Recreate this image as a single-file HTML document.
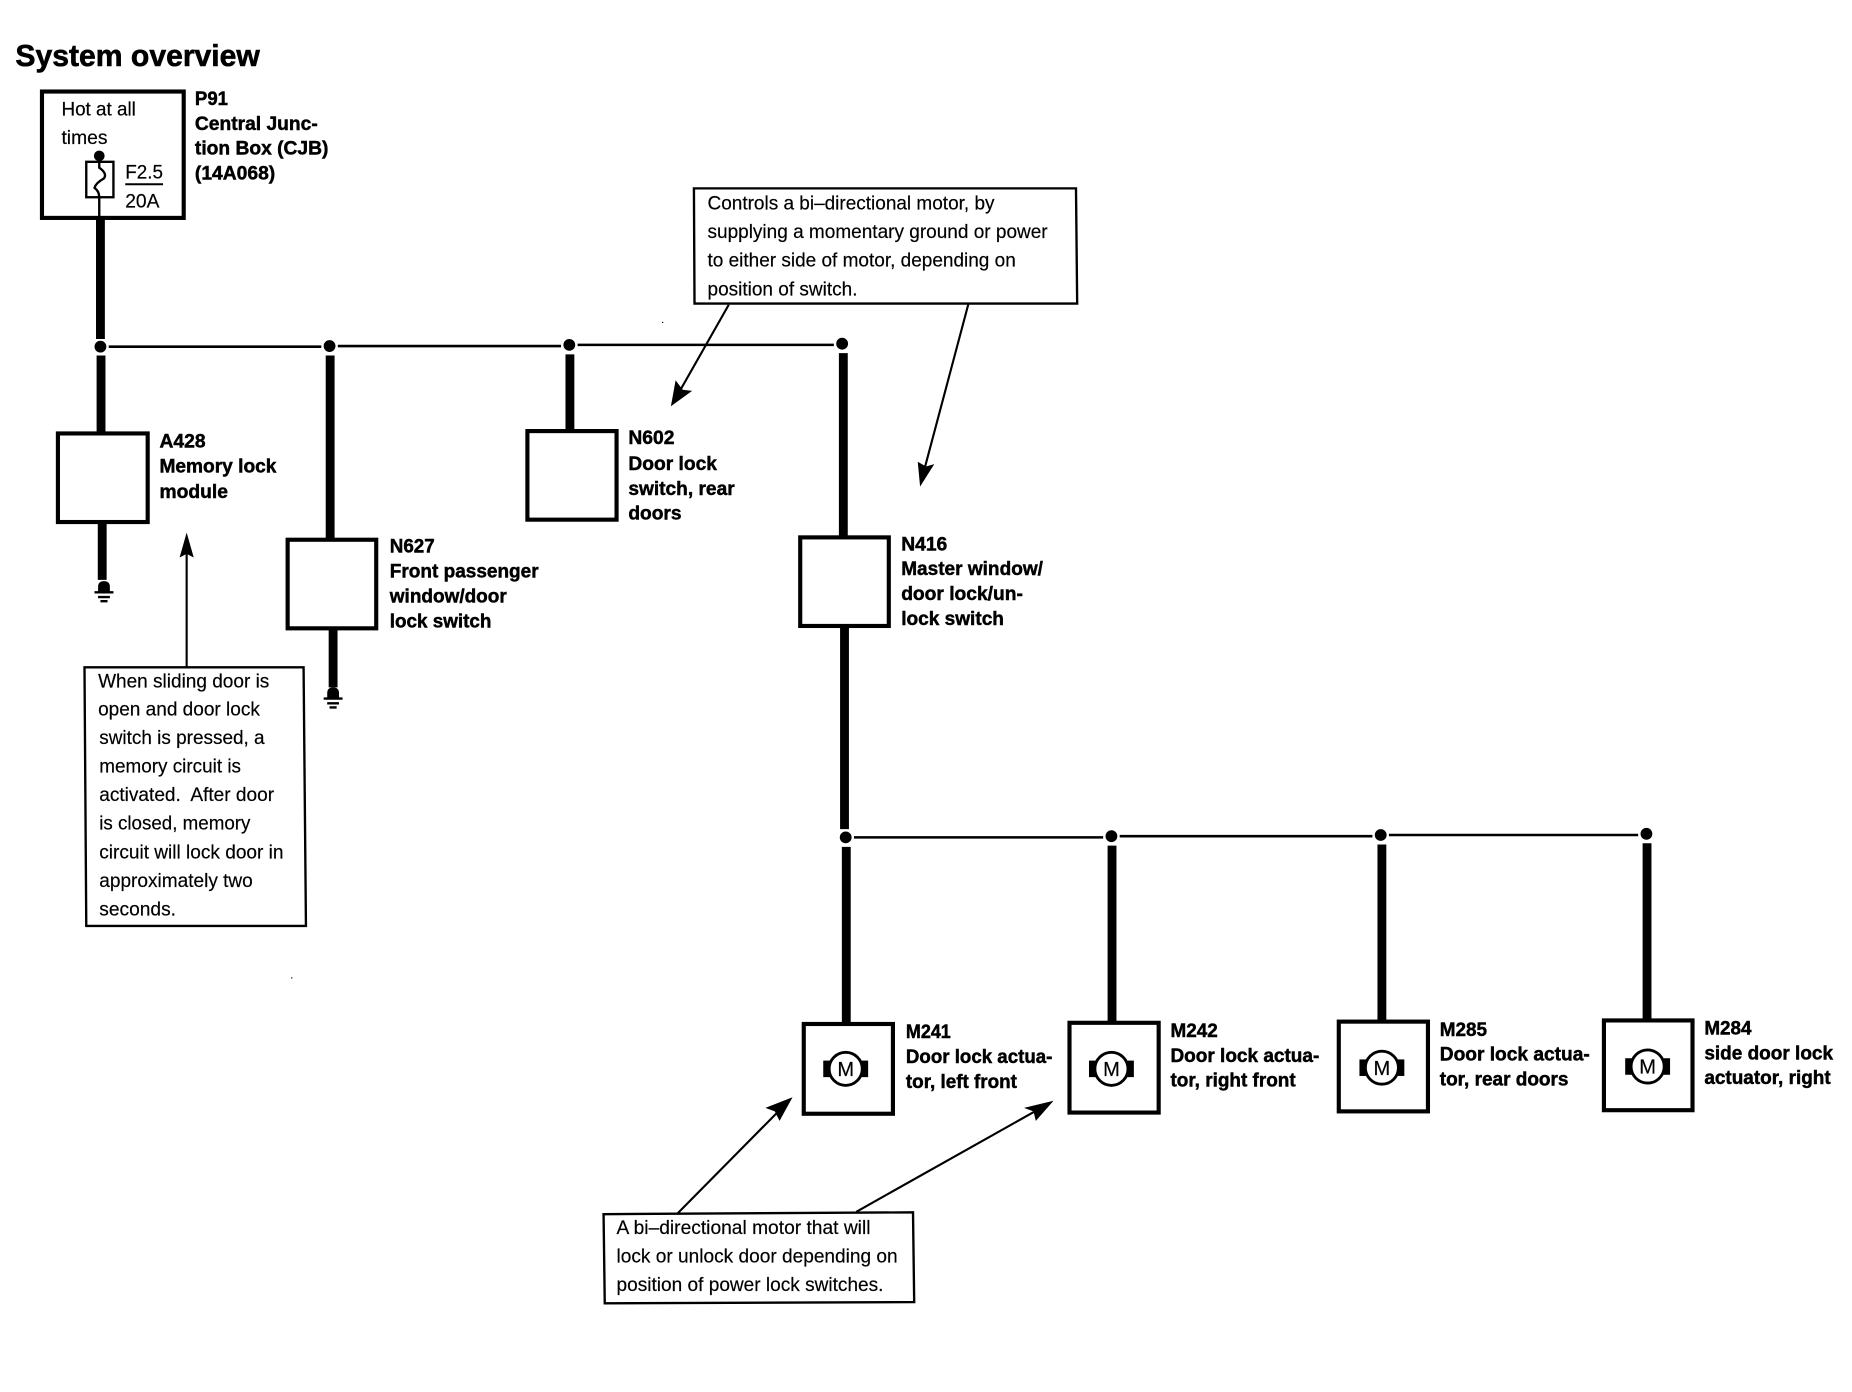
<!DOCTYPE html>
<html><head><meta charset="utf-8"><style>
html,body{margin:0;padding:0;background:#fff}
svg{display:block}
text{font-family:"Liberation Sans",sans-serif;font-size:16.5px;fill:#000;stroke:#000;stroke-width:.15}
.b{font-weight:bold;stroke:#000;stroke-width:.4}
.t{font-weight:bold;font-size:26px;stroke:#000;stroke-width:.5}
.box{fill:#fff;stroke:#000;stroke-width:3.5}
.co{fill:#fff;stroke:#000;stroke-width:2}
.w{stroke:#000;stroke-width:7.5;fill:none}
.h{stroke:#000;stroke-width:2.2;fill:none}
.a{stroke:#000;stroke-width:1.8;fill:none}
</style></head><body>
<svg xmlns="http://www.w3.org/2000/svg" width="1852" height="1392" viewBox="0 0 1568 1178.6">
<text class="t" x="13" y="56" textLength="207" lengthAdjust="spacingAndGlyphs">System overview</text>

<!-- P91 -->
<rect class="box" x="35.500" y="77.500" width="120" height="107"/>
<text x="52" y="98" textLength="63" lengthAdjust="spacingAndGlyphs">Hot at all</text>
<text x="52" y="122" textLength="39" lengthAdjust="spacingAndGlyphs">times</text>
<circle cx="84" cy="132" r="4.500"/>
<rect x="73" y="137" width="23" height="30" fill="#fff" stroke="#000" stroke-width="2"/>
<path d="M84 132V142Q91 147 88 151Q81 155 80 159Q84 162 84 167V185" fill="none" stroke="#000" stroke-width="2"/>
<text x="106" y="151" textLength="32" lengthAdjust="spacingAndGlyphs">F2.5</text>
<path d="M106 156H138" stroke="#000" stroke-width="1.600"/>
<text x="106" y="175.500" textLength="29" lengthAdjust="spacingAndGlyphs">20A</text>
<text class="b" x="165" y="89" textLength="28" lengthAdjust="spacingAndGlyphs">P91</text>
<text class="b" x="165" y="110" textLength="104" lengthAdjust="spacingAndGlyphs">Central Junc-</text>
<text class="b" x="165" y="131" textLength="113" lengthAdjust="spacingAndGlyphs">tion Box (CJB)</text>
<text class="b" x="165" y="152" textLength="68" lengthAdjust="spacingAndGlyphs">(14A068)</text>

<!-- wires -->
<path class="w" d="M85 185V287M85.500 301V367M279.500 301V457M482.500 300V365M714 299V455M715 530V702M716.500 717V867M941.500 716V866M1170 715V865M1394.500 714V864M86.500 442V491M282 532V582"/>
<path class="h" d="M92 293.500H272M286 293H475M489 292H706M723 709H934M948 708H1162M1176 707H1387"/>
<g><circle cx="85" cy="293.500" r="5"/><circle cx="279" cy="293" r="5"/><circle cx="482" cy="292" r="5"/><circle cx="713" cy="291" r="5"/><circle cx="716" cy="709" r="5"/><circle cx="941" cy="708" r="5"/><circle cx="1169" cy="707" r="5"/><circle cx="1394" cy="706" r="5"/></g>

<!-- grounds -->
<g><path d="M83 501V497Q83 492 88 492Q93 492 93 497V501Z"/><path d="M80 501.500H96M83 505.500H93M85 509H91" stroke="#000" stroke-width="2"/></g>
<g transform="translate(194,90)"><path d="M83 501V497Q83 492 88 492Q93 492 93 497V501Z"/><path d="M80 501.500H96M83 505.500H93M85 509H91" stroke="#000" stroke-width="2"/></g>

<!-- boxes -->
<rect class="box" x="49" y="367" width="76" height="75"/>
<rect class="box" x="243.500" y="457" width="75" height="75"/>
<rect class="box" x="446.500" y="365" width="75.500" height="75"/>
<rect class="box" x="677.500" y="455" width="75" height="75"/>
<rect class="box" x="680.500" y="867" width="75.500" height="76"/>
<rect class="box" x="905.500" y="866" width="75.500" height="76"/>
<rect class="box" x="1133.500" y="865" width="75.500" height="76"/>
<rect class="box" x="1358" y="864" width="75" height="76"/>

<!-- motors -->
<g transform="translate(716,905)"><rect x="-19" y="-7" width="38" height="14"/><circle r="14" fill="#fff" stroke="#000" stroke-width="2.400"/><text x="0" y="6" text-anchor="middle" style="font-size:17px">M</text></g>
<g transform="translate(941,905)"><rect x="-19" y="-7" width="38" height="14"/><circle r="14" fill="#fff" stroke="#000" stroke-width="2.400"/><text x="0" y="6" text-anchor="middle" style="font-size:17px">M</text></g>
<g transform="translate(1170,904)"><rect x="-19" y="-7" width="38" height="14"/><circle r="14" fill="#fff" stroke="#000" stroke-width="2.400"/><text x="0" y="6" text-anchor="middle" style="font-size:17px">M</text></g>
<g transform="translate(1395,903)"><rect x="-19" y="-7" width="38" height="14"/><circle r="14" fill="#fff" stroke="#000" stroke-width="2.400"/><text x="0" y="6" text-anchor="middle" style="font-size:17px">M</text></g>

<!-- labels -->
<text class="b" x="135" y="379" textLength="39" lengthAdjust="spacingAndGlyphs">A428</text>
<text class="b" x="135" y="400" textLength="99" lengthAdjust="spacingAndGlyphs">Memory lock</text>
<text class="b" x="135" y="421.500" textLength="58" lengthAdjust="spacingAndGlyphs">module</text>

<text class="b" x="330" y="468" textLength="38" lengthAdjust="spacingAndGlyphs">N627</text>
<text class="b" x="330" y="489" textLength="126" lengthAdjust="spacingAndGlyphs">Front passenger</text>
<text class="b" x="330" y="510" textLength="99" lengthAdjust="spacingAndGlyphs">window/door</text>
<text class="b" x="330" y="531.500" textLength="86" lengthAdjust="spacingAndGlyphs">lock switch</text>

<text class="b" x="532" y="376" textLength="39" lengthAdjust="spacingAndGlyphs">N602</text>
<text class="b" x="532" y="398" textLength="75" lengthAdjust="spacingAndGlyphs">Door lock</text>
<text class="b" x="532" y="419" textLength="90" lengthAdjust="spacingAndGlyphs">switch, rear</text>
<text class="b" x="532" y="440" textLength="45" lengthAdjust="spacingAndGlyphs">doors</text>

<text class="b" x="763" y="466" textLength="39" lengthAdjust="spacingAndGlyphs">N416</text>
<text class="b" x="763" y="487" textLength="120" lengthAdjust="spacingAndGlyphs">Master window/</text>
<text class="b" x="763" y="508" textLength="103" lengthAdjust="spacingAndGlyphs">door lock/un-</text>
<text class="b" x="763" y="529" textLength="87" lengthAdjust="spacingAndGlyphs">lock switch</text>

<text class="b" x="767" y="879" textLength="38" lengthAdjust="spacingAndGlyphs">M241</text>
<text class="b" x="767" y="900" textLength="124" lengthAdjust="spacingAndGlyphs">Door lock actua-</text>
<text class="b" x="767" y="921" textLength="94" lengthAdjust="spacingAndGlyphs">tor, left front</text>

<text class="b" x="991" y="878" textLength="40" lengthAdjust="spacingAndGlyphs">M242</text>
<text class="b" x="991" y="899" textLength="126" lengthAdjust="spacingAndGlyphs">Door lock actua-</text>
<text class="b" x="991" y="920" textLength="106" lengthAdjust="spacingAndGlyphs">tor, right front</text>

<text class="b" x="1219" y="877" textLength="40" lengthAdjust="spacingAndGlyphs">M285</text>
<text class="b" x="1219" y="898" textLength="127" lengthAdjust="spacingAndGlyphs">Door lock actua-</text>
<text class="b" x="1219" y="919" textLength="109" lengthAdjust="spacingAndGlyphs">tor, rear doors</text>

<text class="b" x="1443" y="876" textLength="40" lengthAdjust="spacingAndGlyphs">M284</text>
<text class="b" x="1443" y="897" textLength="109" lengthAdjust="spacingAndGlyphs">side door lock</text>
<text class="b" x="1443" y="918" textLength="107" lengthAdjust="spacingAndGlyphs">actuator, right</text>

<!-- callout 1 -->
<path class="a" d="M158 565V468"/><path d="M158 451L164 472L158 469L152 472Z"/>
<path class="co" d="M71.500 565H257L259 784H73Z"/>
<text x="83" y="582" textLength="145" lengthAdjust="spacingAndGlyphs">When sliding door is</text>
<text x="83" y="606" textLength="137" lengthAdjust="spacingAndGlyphs">open and door lock</text>
<text x="84" y="630" textLength="140" lengthAdjust="spacingAndGlyphs">switch is pressed, a</text>
<text x="84" y="654" textLength="120" lengthAdjust="spacingAndGlyphs">memory circuit is</text>
<text x="84" y="678" textLength="148" lengthAdjust="spacingAndGlyphs" xml:space="preserve">activated.  After door</text>
<text x="84" y="702.500" textLength="128" lengthAdjust="spacingAndGlyphs">is closed, memory</text>
<text x="84" y="727" textLength="156" lengthAdjust="spacingAndGlyphs">circuit will lock door in</text>
<text x="84" y="751" textLength="130" lengthAdjust="spacingAndGlyphs">approximately two</text>
<text x="84" y="775" textLength="65" lengthAdjust="spacingAndGlyphs">seconds.</text>

<!-- callout 2 -->
<path class="a" d="M617 258L575 332"/><path d="M568 344L572 322L578 330L586 331Z"/>
<path class="a" d="M820 257L783 396"/><path d="M779 412L777 391L784 395L791 393Z"/>
<path class="co" d="M587.500 159.500H911L912 257H588Z"/>
<text x="599" y="177.500" textLength="243" lengthAdjust="spacingAndGlyphs">Controls a bi–directional motor, by</text>
<text x="599" y="201.500" textLength="288" lengthAdjust="spacingAndGlyphs">supplying a momentary ground or power</text>
<text x="599" y="225.500" textLength="261" lengthAdjust="spacingAndGlyphs">to either side of motor, depending on</text>
<text x="599" y="250" textLength="127" lengthAdjust="spacingAndGlyphs">position of switch.</text>

<!-- callout 3 -->
<path class="a" d="M574 1027L660 940"/><path d="M671 929L660 949L656 941L648 938Z"/>
<path class="a" d="M725 1026L878 940"/><path d="M892 932L877 949L875 941L867 938Z"/>
<path class="co" d="M511 1028L773 1026.500L774 1102.500L512 1103.500Z"/>
<text x="522" y="1045" textLength="215" lengthAdjust="spacingAndGlyphs">A bi–directional motor that will</text>
<text x="522" y="1069" textLength="238" lengthAdjust="spacingAndGlyphs">lock or unlock door depending on</text>
<text x="522" y="1093" textLength="226" lengthAdjust="spacingAndGlyphs">position of power lock switches.</text>

<circle cx="247" cy="828" r=".6"/><circle cx="561" cy="273" r=".6"/>
</svg>
</body></html>
